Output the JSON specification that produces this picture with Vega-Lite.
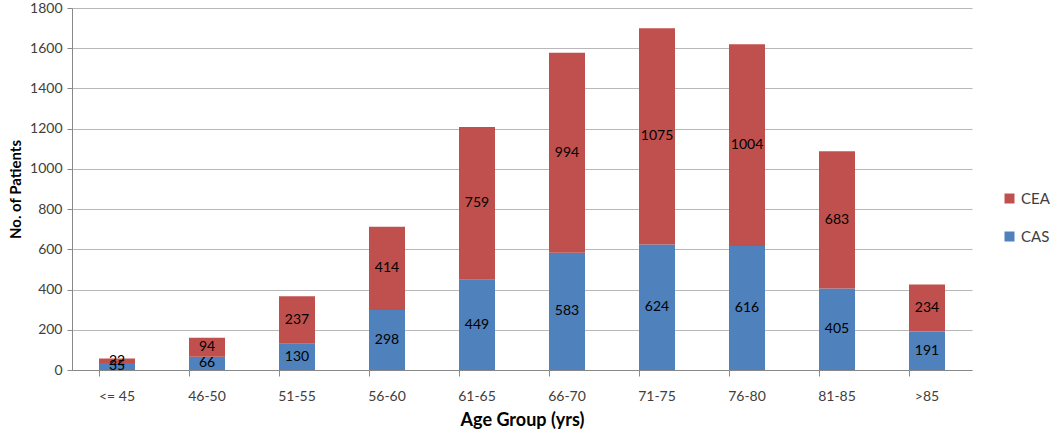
{
  "$schema": "https://vega.github.io/schema/vega-lite/v6.json",
  "width": 900,
  "height": 362,
  "autosize": {"type": "none"},
  "padding": {"left": 72, "top": 8, "right": 78, "bottom": 63},
  "background": "white",
  "config": {
    "font": "Lato",
    "view": {"stroke": null}
  },
  "data": {
    "values": [
      {"age": "<= 45", "type": "CAS", "ord": 1, "n": 35},
      {"age": "<= 45", "type": "CEA", "ord": 2, "n": 22},
      {"age": "46-50", "type": "CAS", "ord": 1, "n": 66},
      {"age": "46-50", "type": "CEA", "ord": 2, "n": 94},
      {"age": "51-55", "type": "CAS", "ord": 1, "n": 130},
      {"age": "51-55", "type": "CEA", "ord": 2, "n": 237},
      {"age": "56-60", "type": "CAS", "ord": 1, "n": 298},
      {"age": "56-60", "type": "CEA", "ord": 2, "n": 414},
      {"age": "61-65", "type": "CAS", "ord": 1, "n": 449},
      {"age": "61-65", "type": "CEA", "ord": 2, "n": 759},
      {"age": "66-70", "type": "CAS", "ord": 1, "n": 583},
      {"age": "66-70", "type": "CEA", "ord": 2, "n": 994},
      {"age": "71-75", "type": "CAS", "ord": 1, "n": 624},
      {"age": "71-75", "type": "CEA", "ord": 2, "n": 1075},
      {"age": "76-80", "type": "CAS", "ord": 1, "n": 616},
      {"age": "76-80", "type": "CEA", "ord": 2, "n": 1004},
      {"age": "81-85", "type": "CAS", "ord": 1, "n": 405},
      {"age": "81-85", "type": "CEA", "ord": 2, "n": 683},
      {"age": ">85", "type": "CAS", "ord": 1, "n": 191},
      {"age": ">85", "type": "CEA", "ord": 2, "n": 234}
    ]
  },
  "transform": [
    {"stack": "n", "groupby": ["age"], "sort": [{"field": "ord", "order": "ascending"}], "as": ["y0", "y1"]},
    {"calculate": "(datum.y0 + datum.y1) / 2", "as": "ymid"}
  ],
  "encoding": {
    "x": {
      "field": "age",
      "type": "nominal",
      "sort": null,
      "scale": {"paddingInner": 0.6, "paddingOuter": 0.3},
      "axis": {
        "title": "Age Group (yrs)",
        "titleFontSize": 18,
        "titleFontWeight": "bold",
        "titleColor": "#000000",
        "titlePadding": 8,
        "labelAngle": 0,
        "labelFontSize": 14,
        "labelColor": "#404040",
        "labelPadding": 13,
        "bandPosition": 0,
        "tickSize": 6,
        "tickColor": "#888888",
        "domainColor": "#888888",
        "grid": false
      }
    }
  },
  "layer": [
    {
      "mark": {"type": "bar"},
      "encoding": {
        "y": {
          "field": "y0",
          "type": "quantitative",
          "scale": {"domain": [0, 1800]},
          "axis": {
            "title": "No. of Patients",
            "titleFontSize": 15,
            "titleFontWeight": "bold",
            "titleColor": "#000000",
            "titlePadding": 6,
            "format": "d",
            "values": [0, 200, 400, 600, 800, 1000, 1200, 1400, 1600, 1800],
            "labelFontSize": 14,
            "labelColor": "#404040",
            "labelPadding": 5,
            "tickSize": 5,
            "tickColor": "#888888",
            "domainColor": "#888888",
            "gridColor": "#b8b8b8",
            "gridWidth": 1
          }
        },
        "y2": {"field": "y1"},
        "color": {
          "field": "type",
          "type": "nominal",
          "scale": {"domain": ["CEA", "CAS"], "range": ["#C0504D", "#4F81BD"]},
          "legend": {
            "title": null,
            "orient": "none",
            "legendX": 930,
            "legendY": 183,
            "labelFontSize": 15,
            "labelColor": "#404040",
            "symbolType": "square",
            "symbolSize": 100,
            "rowPadding": 22,
            "symbolStrokeWidth": 0
          }
        }
      }
    },
    {
      "mark": {"type": "text", "fontSize": 14, "color": "#000000"},
      "encoding": {
        "y": {"field": "ymid", "type": "quantitative"},
        "text": {"field": "n", "type": "quantitative"}
      }
    }
  ]
}
